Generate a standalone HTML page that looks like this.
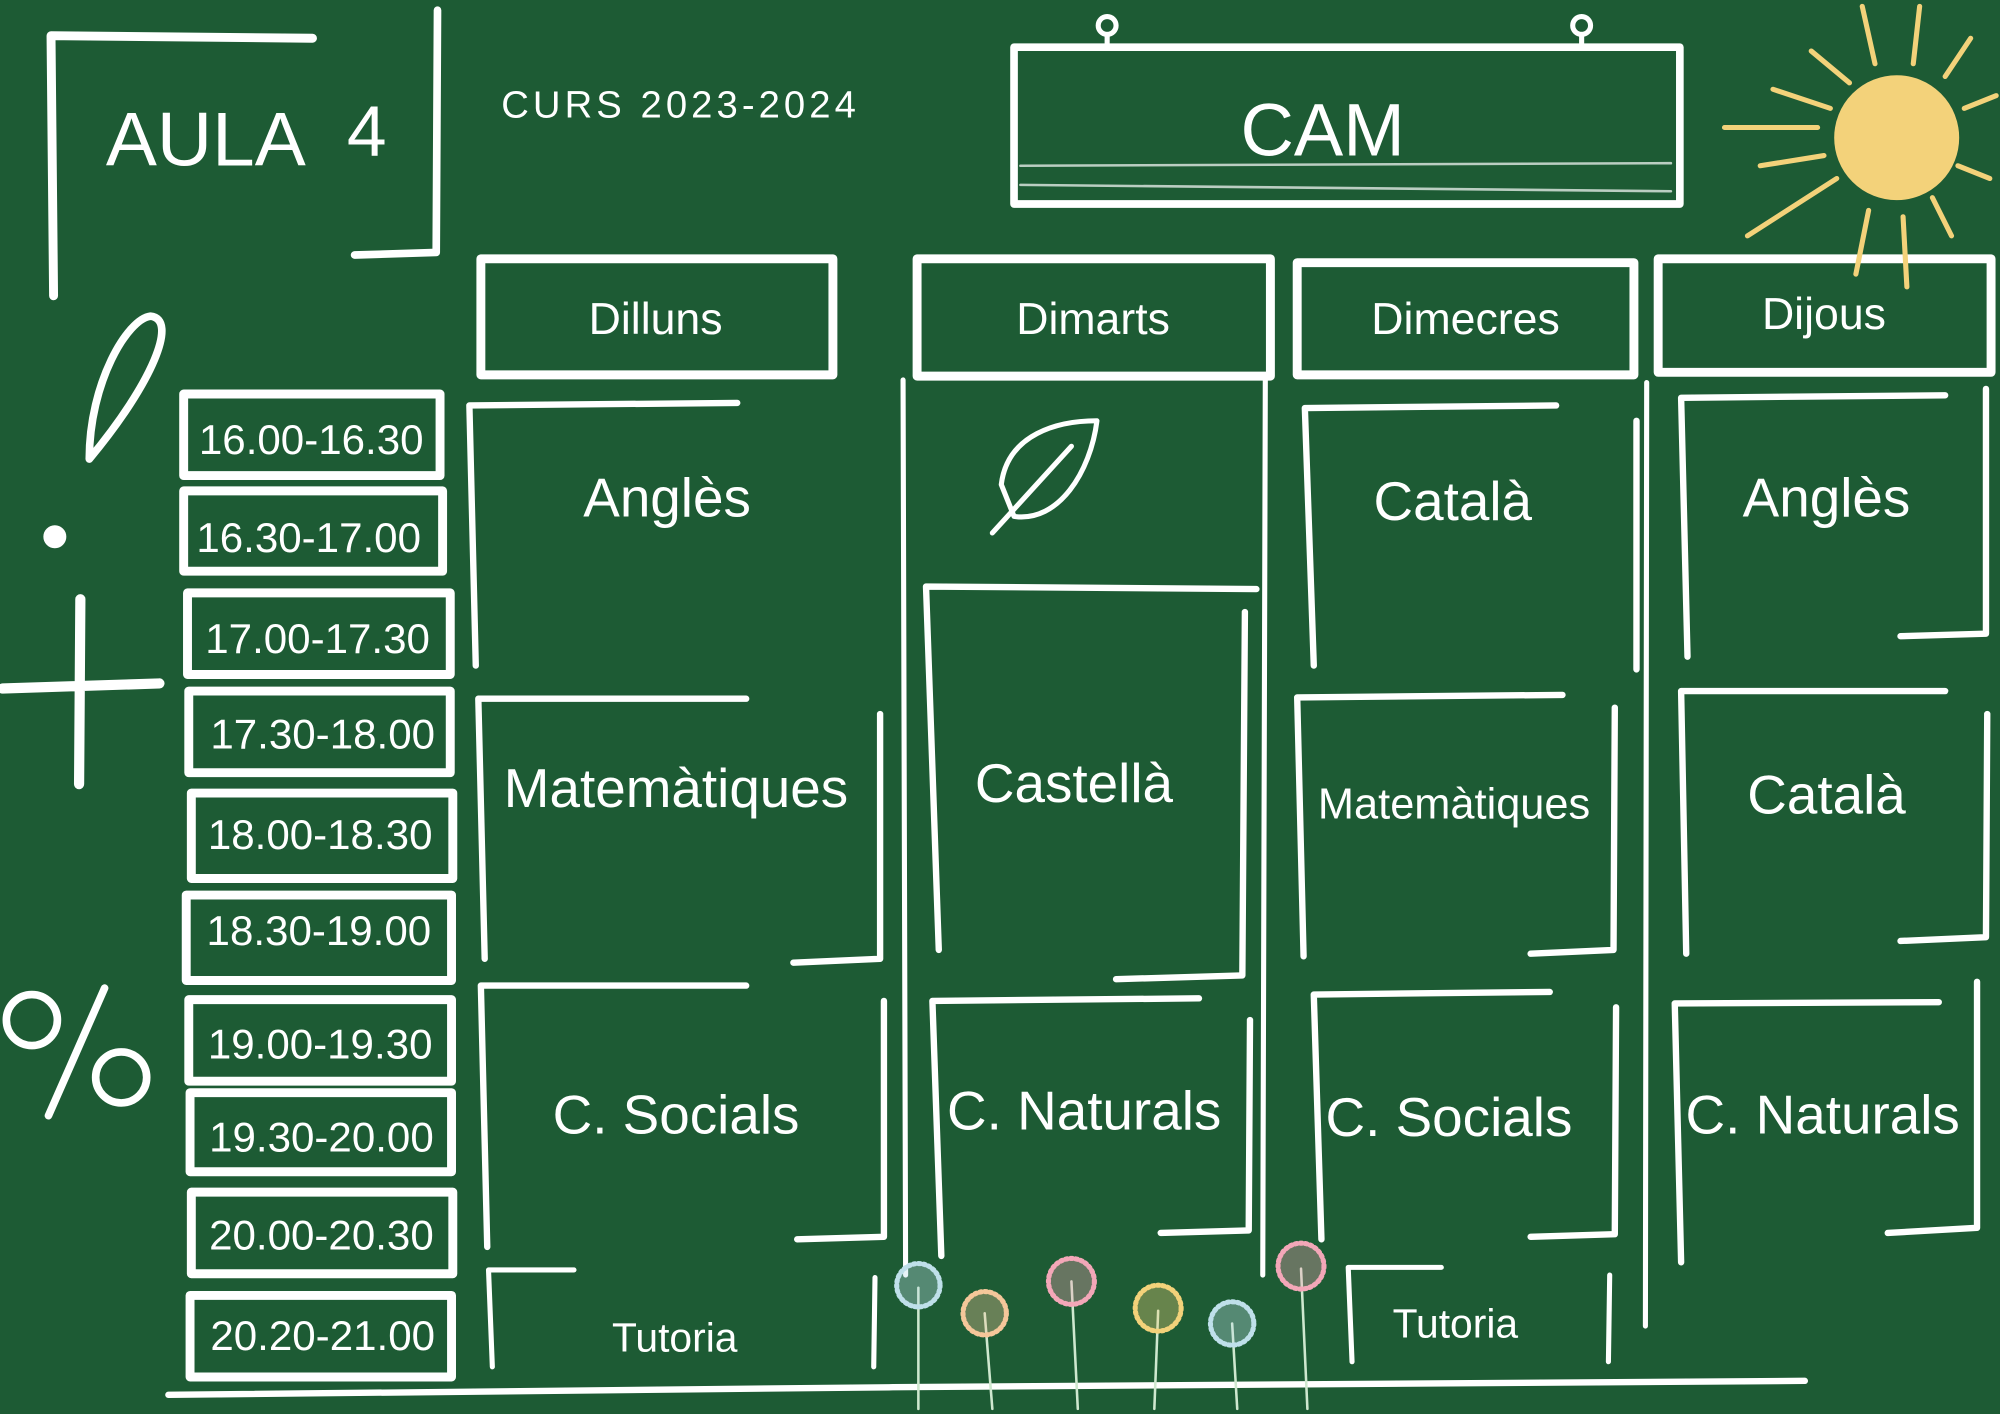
<!DOCTYPE html>
<html><head><meta charset="utf-8"><style>
html,body{margin:0;padding:0;background:#1d5b34;overflow:hidden}
svg{display:block}
text{font-family:"Liberation Sans",sans-serif;fill:#fff}
</style></head><body>
<svg width="2000" height="1414" viewBox="0 0 1568 1109" preserveAspectRatio="none" xmlns="http://www.w3.org/2000/svg">
<rect width="1568" height="1109" fill="#1d5b34"/>
<g stroke="#fff" fill="none" stroke-linecap="round" stroke-linejoin="round">
<path d="M42 232 L40 28 L245 30" stroke-width="7"/>
<path d="M343 8 L342 198 L278 200" stroke-width="6"/>
<rect x="795" y="37" width="522" height="123" stroke-width="6"/>
<path d="M800 130 L1310 128 M800 145 L1310 150" stroke-width="2" opacity=".7"/>
<circle cx="868" cy="20" r="7" stroke-width="4"/><circle cx="1240" cy="20" r="7" stroke-width="4"/>
<path d="M868 27 L868 37 M1240 27 L1240 37" stroke-width="4"/>
<rect x="377" y="203" width="276" height="91" stroke-width="7"/>
<rect x="719" y="203" width="277" height="92" stroke-width="7"/>
<rect x="1017" y="206" width="264" height="88" stroke-width="7"/>
<rect x="1300" y="203" width="261" height="89" stroke-width="7"/>
<rect x="144" y="309" width="201" height="64" stroke-width="7"/>
<rect x="144" y="385" width="203" height="63" stroke-width="7"/>
<rect x="147" y="465" width="206" height="64" stroke-width="7"/>
<rect x="148" y="542" width="205" height="64" stroke-width="7"/>
<rect x="150" y="622" width="205" height="67" stroke-width="7"/>
<rect x="146" y="702" width="208" height="67" stroke-width="7"/>
<rect x="148" y="784" width="206" height="64" stroke-width="7"/>
<rect x="149" y="857" width="205" height="62" stroke-width="7"/>
<rect x="150" y="935" width="205" height="64" stroke-width="7"/>
<rect x="149" y="1016" width="205" height="64" stroke-width="7"/>
<path d="M373 522 L368 318 L578 316" stroke-width="5"/>
<path d="M380 752 L375 548 L585 548 M690 560 L690 752 L622 755" stroke-width="5"/>
<path d="M382 978 L377 773 L585 773 M693 785 L693 970 L625 972" stroke-width="5"/>
<path d="M386 1072 L383 996 L450 996 M686 1002 L685 1072" stroke-width="4"/>
<path d="M708 298 L710 1000 M992 298 L990 1000" stroke-width="4"/>
<path d="M736 745 L726 460 L985 462 M976 480 L974 765 L875 768" stroke-width="5"/>
<path d="M738 985 L731 785 L940 783 M980 800 L979 965 L910 967" stroke-width="5"/>
<path d="M1030 522 L1023 320 L1220 318 M1283 330 L1283 525" stroke-width="5"/>
<path d="M1022 750 L1017 547 L1225 545 M1266 555 L1265 745 L1200 748" stroke-width="5"/>
<path d="M1036 972 L1030 780 L1215 778 M1267 790 L1266 968 L1200 970" stroke-width="5"/>
<path d="M1060 1068 L1057 994 L1130 994 M1262 1000 L1261 1068" stroke-width="4"/>
<path d="M1291 300 L1290 1040" stroke-width="4"/>
<path d="M1323 515 L1318 312 L1525 310 M1557 305 L1557 497 L1490 499" stroke-width="5"/>
<path d="M1322 748 L1318 542 L1525 542 M1558 560 L1557 735 L1490 738" stroke-width="5"/>
<path d="M1318 990 L1313 787 L1520 786 M1550 770 L1550 963 L1480 967" stroke-width="5"/>
<path d="M132 1094 L700 1088 L1415 1083" stroke-width="5"/>
<path d="M785 380 C790 340 830 330 860 330 C855 370 830 410 795 405 Z M778 418 L840 350" stroke-width="4"/>
<path d="M70 360 C70 300 100 250 118 248 C140 250 120 300 70 360 Z" stroke-width="6"/>
<circle cx="43" cy="421" r="8" fill="#fff" stroke-width="2"/>
<path d="M63 470 L62 615 M2 540 L125 536" stroke-width="8"/>
<circle cx="25" cy="800" r="20" stroke-width="6"/><circle cx="95" cy="845" r="20" stroke-width="6"/>
<path d="M38 875 L82 775" stroke-width="6"/>
</g>
<g stroke="#f3d27a" stroke-width="4" stroke-linecap="round">
<circle cx="1487" cy="108" r="47" fill="#f3d27a"/>
<path d="M1352 100 L1425 100 M1380 130 L1430 122 M1370 185 L1440 140 M1455 215 L1465 165 M1495 225 L1492 170 M1530 185 L1515 155 M1560 140 L1535 130 M1565 75 L1540 85 M1545 30 L1525 60 M1505 5 L1500 50 M1460 5 L1470 50 M1420 40 L1450 65 M1390 70 L1435 85"/>
</g>
<g stroke-width="2" stroke-linecap="round">
<path d="M720 1010 L720 1105 M772 1030 L778 1105 M840 1005 L845 1105 M908 1028 L905 1105 M966 1038 L970 1105 M1020 995 L1025 1105" stroke="#cfe8cf"/>
<circle cx="720" cy="1008" r="17" fill="#bfe0ea" fill-opacity=".35" stroke="#bfe0ea" stroke-width="4" stroke-dasharray="1.5 2.5"/>
<circle cx="772" cy="1030" r="17" fill="#f5c79a" fill-opacity=".35" stroke="#f5c79a" stroke-width="4" stroke-dasharray="1.5 2.5"/>
<circle cx="840" cy="1005" r="18" fill="#f3a7b8" fill-opacity=".35" stroke="#f3a7b8" stroke-width="4" stroke-dasharray="1.5 2.5"/>
<circle cx="908" cy="1026" r="18" fill="#f3d27a" fill-opacity=".35" stroke="#f3d27a" stroke-width="4" stroke-dasharray="1.5 2.5"/>
<circle cx="966" cy="1038" r="17" fill="#bfe0ea" fill-opacity=".35" stroke="#bfe0ea" stroke-width="4" stroke-dasharray="1.5 2.5"/>
<circle cx="1020" cy="993" r="18" fill="#f3a7b8" fill-opacity=".35" stroke="#f3a7b8" stroke-width="4" stroke-dasharray="1.5 2.5"/>
</g>
<text x="83" y="130" font-size="60">AULA</text>
<text x="272" y="122" font-size="56">4</text>
<text x="393" y="92" font-size="30" textLength="278">CURS 2023-2024</text>
<text x="1037" y="122" font-size="58" text-anchor="middle">CAM</text>
<g font-size="35" text-anchor="middle">
<text x="514" y="262">Dilluns</text>
<text x="857" y="262">Dimarts</text>
<text x="1149" y="262">Dimecres</text>
<text x="1430" y="258">Dijous</text>
</g>
<g font-size="33" text-anchor="middle">
<text x="244" y="356">16.00-16.30</text>
<text x="242" y="433">16.30-17.00</text>
<text x="249" y="512">17.00-17.30</text>
<text x="253" y="587">17.30-18.00</text>
<text x="251" y="666">18.00-18.30</text>
<text x="250" y="741">18.30-19.00</text>
<text x="251" y="830">19.00-19.30</text>
<text x="252" y="903">19.30-20.00</text>
<text x="252" y="980">20.00-20.30</text>
<text x="253" y="1059">20.20-21.00</text>
</g>
<g font-size="43" text-anchor="middle">
<text x="523" y="405">Anglès</text>
<text x="530" y="633">Matemàtiques</text>
<text x="530" y="889">C. Socials</text>
<text x="842" y="629">Castellà</text>
<text x="850" y="886">C. Naturals</text>
<text x="1139" y="408">Català</text>
<text x="1136" y="891">C. Socials</text>
<text x="1432" y="405">Anglès</text>
<text x="1432" y="638">Català</text>
<text x="1429" y="889">C. Naturals</text>
</g>
<text x="1140" y="642" font-size="34" text-anchor="middle">Matemàtiques</text>
<text x="529" y="1060" font-size="32" text-anchor="middle">Tutoria</text>
<text x="1141" y="1049" font-size="32" text-anchor="middle">Tutoria</text>
</svg>
</body></html>
